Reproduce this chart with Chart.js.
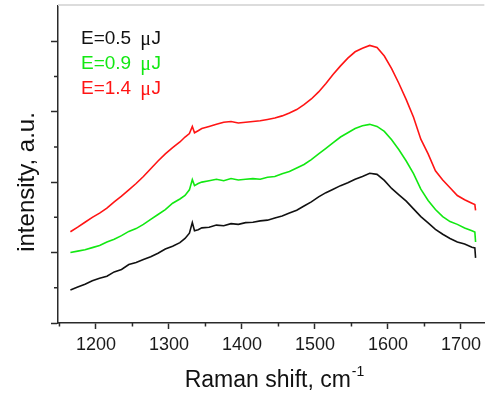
<!DOCTYPE html>
<html>
<head>
<meta charset="utf-8">
<script src="https://cdn.jsdelivr.net/npm/chart.js@4/dist/chart.umd.min.js"></script>
<style>
  html, body { margin: 0; padding: 0; background: #fff; }
  #wrap { width: 486px; height: 394px; }
</style>
</head>
<body>
<div id="wrap"><canvas id="raman"></canvas></div>
<script>
// Raman shift (cm-1) sample points
const shift = [1165,1175,1185,1195,1205,1215,1225,1235,1245,1255,1265,1275,1285,1295,1305,1315,1322,1328,1332,1335,
  1340,1345,1355,1365,1375,1385,1395,1405,1415,1425,1435,1445,1455,1465,1475,1485,1495,1505,1515,1525,
  1535,1545,1555,1565,1575,1585,1595,1605,1615,1625,1635,1645,1655,1665,1675,1685,1695,1705,1715,1719,1720];

// intensity, a.u.
const e05 = [0.94,1.02,1.10,1.20,1.27,1.33,1.45,1.52,1.66,1.72,1.80,1.88,1.98,2.10,2.18,2.28,2.40,2.55,2.85,2.62,
  2.65,2.70,2.72,2.78,2.76,2.82,2.80,2.85,2.86,2.90,2.92,2.98,3.04,3.12,3.20,3.32,3.44,3.58,3.70,3.80,
  3.90,3.98,4.08,4.16,4.25,4.22,4.05,3.82,3.64,3.46,3.24,3.02,2.84,2.66,2.52,2.40,2.30,2.24,2.15,2.13,1.85];
const e09 = [2.00,2.04,2.08,2.14,2.20,2.30,2.38,2.48,2.60,2.68,2.80,2.94,3.08,3.22,3.40,3.52,3.62,3.78,4.07,3.90,
  3.96,4.00,4.04,4.08,4.04,4.10,4.06,4.08,4.10,4.08,4.14,4.16,4.24,4.30,4.40,4.50,4.64,4.80,4.96,5.12,
  5.28,5.40,5.52,5.60,5.64,5.58,5.44,5.20,4.92,4.60,4.24,3.80,3.48,3.22,3.02,2.88,2.80,2.70,2.62,2.58,2.30];
const e14 = [2.59,2.72,2.86,3.00,3.12,3.26,3.44,3.60,3.78,3.96,4.16,4.38,4.60,4.80,4.98,5.14,5.28,5.38,5.58,5.40,
  5.46,5.52,5.58,5.64,5.70,5.72,5.68,5.70,5.72,5.74,5.78,5.82,5.88,5.96,6.06,6.20,6.36,6.56,6.80,7.06,
  7.30,7.52,7.70,7.80,7.88,7.82,7.58,7.22,6.80,6.34,5.84,5.22,4.80,4.32,4.06,3.84,3.62,3.50,3.40,3.36,3.20];

const seriesNames = ['E=0.5', 'E=0.9', 'E=1.4'];
const seriesColors = ['#111111', '#12e812', '#ff1414'];

const xMajor = [1200, 1300, 1400, 1500, 1600, 1700];
const xMinor = [1150, 1250, 1350, 1450, 1550, 1650];
const yMajor = [0, 2, 4, 6, 8];
const yMinor = [1, 3, 5, 7];

const axisColor = '#2a2a2a';
const sans = '"Liberation Sans", Arial, sans-serif';

function pts(ys) {
  return shift.map((x, i) => ({ x: x, y: ys[i] }));
}

// minor ticks, frame line, legend and axis titles
const decor = {
  id: 'decor',
  afterDraw(chart) {
    const { ctx, chartArea: a, scales: { x, y } } = chart;
    ctx.save();

    ctx.strokeStyle = '#dcdcdc';
    ctx.lineWidth = 2;
    ctx.beginPath();
    ctx.moveTo(a.left, a.top - 1);
    ctx.lineTo(a.right, a.top - 1);
    ctx.stroke();

    ctx.strokeStyle = axisColor;
    ctx.lineWidth = 1.5;
    ctx.beginPath();
    xMinor.forEach(v => {
      const px = x.getPixelForValue(v);
      ctx.moveTo(px, a.bottom);
      ctx.lineTo(px, a.bottom + 3.5);
    });
    yMinor.forEach(v => {
      const py = y.getPixelForValue(v);
      ctx.moveTo(a.left, py);
      ctx.lineTo(a.left - 4, py);
    });
    ctx.stroke();

    // legend
    ctx.textBaseline = 'middle';
    ctx.textAlign = 'left';
    seriesNames.forEach((name, i) => {
      const ty = 39 + i * 25;
      let tx = 81;
      ctx.fillStyle = seriesColors[i];
      ctx.font = '19px ' + sans;
      ctx.fillText(name, tx, ty);
      tx += ctx.measureText(name).width + 9;
      ctx.font = '20px "Liberation Serif", serif';
      ctx.fillText('\u03bc', tx, ty + 1);
      tx += ctx.measureText('\u03bc').width + 0.5;
      ctx.font = '19px ' + sans;
      ctx.fillText('J', tx, ty);
    });

    // x title with superscript
    ctx.fillStyle = '#111';
    ctx.font = '23px ' + sans;
    const main = 'Raman shift, cm';
    const mw = ctx.measureText(main).width;
    ctx.font = '14px ' + sans;
    const sw = ctx.measureText('-1').width;
    const x0 = 274 - (mw + sw) / 2;
    ctx.font = '23px ' + sans;
    ctx.textBaseline = 'alphabetic';
    ctx.fillText(main, x0, 387);
    ctx.font = '14px ' + sans;
    ctx.fillText('-1', x0 + mw + 1, 376);

    // y title
    ctx.save();
    ctx.translate(27, 182);
    ctx.rotate(-Math.PI / 2);
    ctx.font = '24px ' + sans;
    ctx.textAlign = 'center';
    ctx.textBaseline = 'middle';
    ctx.fillText('intensity, a.u.', 0, 0);
    ctx.restore();

    ctx.restore();
  }
};

new Chart(document.getElementById('raman'), {
  type: 'line',
  data: {
    datasets: [e05, e09, e14].map((ys, i) => ({
      label: seriesNames[i],
      data: pts(ys),
      borderColor: seriesColors[i],
      borderWidth: 1.6,
      pointRadius: 0,
      tension: 0,
      fill: false
    }))
  },
  options: {
    responsive: true,
    maintainAspectRatio: false,
    animation: false,
    layout: { padding: { top: 6, right: 0, left: 0, bottom: 0 } },
    plugins: { legend: { display: false }, tooltip: { enabled: false } },
    scales: {
      x: {
        type: 'linear',
        min: 1148,
        max: 1732,
        afterBuildTicks: s => { s.ticks = xMajor.map(v => ({ value: v })); },
        afterFit: s => { s.height = 71; },
        grid: { drawOnChartArea: false, tickLength: 6, tickColor: axisColor, tickWidth: 1.5 },
        border: { display: true, color: axisColor, width: 1.5 },
        ticks: {
          padding: 5,
          maxRotation: 0,
          color: '#1a1a1a',
          font: { family: sans, size: 18 },
          callback: v => String(v)
        }
      },
      y: {
        min: 0,
        max: 9,
        afterBuildTicks: s => { s.ticks = yMajor.map(v => ({ value: v })); },
        afterFit: s => { s.width = 58; },
        grid: { drawOnChartArea: false, tickLength: 7, tickColor: axisColor, tickWidth: 1.5 },
        border: { display: true, color: axisColor, width: 1.5 },
        ticks: { display: false }
      }
    }
  },
  plugins: [decor]
});
</script>
</body>
</html>
